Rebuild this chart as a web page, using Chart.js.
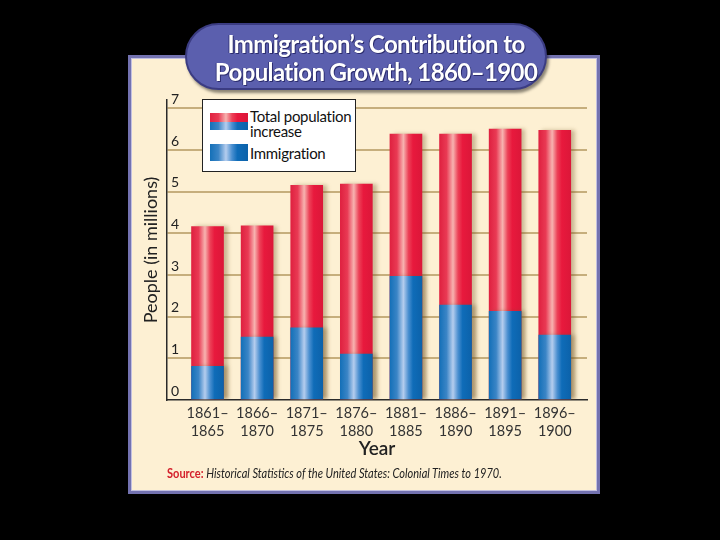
<!DOCTYPE html>
<html>
<head>
<meta charset="utf-8">
<script src="https://cdn.jsdelivr.net/npm/chart.js@4"></script>
<style>
  html, body { margin: 0; padding: 0; background: #000; }
  body { width: 720px; height: 540px; position: relative; overflow: hidden; }
  .panel {
    position: absolute; left: 128px; top: 55px; width: 466px; height: 433px;
    background: #fdf0d3; border: 3px solid #7372b0;
    box-shadow: inset 0 0 0 1px #c3c0e0;
  }
  .title {
    position: absolute; left: 185px; top: 23px; width: 338px; height: 63px;
    background: #5b5fae; border: 2px solid #3b3c82; border-radius: 34px;
    box-shadow: 2px 3px 3px rgba(0,0,0,0.45);
    color: #fff; font-family: Lato, sans-serif; font-weight: bold;
    font-size: 24px; line-height: 28px; text-align: center; letter-spacing: -0.6px;
    padding-left: 20px; box-sizing: content-box; white-space: nowrap;
    text-shadow: 1px 1px 0 #2c2d6e, -1px 0 0 #3a3c80;
  }
  .title div:first-child { margin-top: 5px; }
  canvas#chart { position: absolute; left: 0; top: 0; }
  .legend {
    position: absolute; left: 202px; top: 99px; width: 152px; height: 71px;
    background: #fff; border: 1.5px solid #222;
    font-family: Lato, sans-serif; font-size: 15px; color: #111;
  }
  .sw { position: absolute; left: 7px; width: 38px; height: 17px; }
  .lab { position: absolute; left: 47px; line-height: 15px; white-space: nowrap; letter-spacing: -0.3px; }
  .source {
    position: absolute; left: 167px; top: 465px; white-space: nowrap;
    font-family: Lato, sans-serif; font-size: 13px; color: #222;
    font-style: italic; transform: scaleX(0.85); transform-origin: 0 0;
  }
  .source b { color: #d4202b; font-style: normal; }
</style>
</head>
<body>
<div class="panel"></div>
<canvas id="chart" width="720" height="540"></canvas>
<div class="title"><div>Immigration’s Contribution to</div><div>Population Growth, 1860–1900</div></div>
<div class="legend">
  <div class="sw" id="swTotal" style="top:13px"></div>
  <div class="lab" style="top:9px">Total population<br>increase</div>
  <div class="sw" id="swImm" style="top:44px"></div>
  <div class="lab" style="top:46px">Immigration</div>
</div>
<div class="source"><b>Source:</b> Historical Statistics of the United States: Colonial Times to 1970.</div>
<script>
// values in millions
const periods = [
  ['1861–', '1865'], ['1866–', '1870'], ['1871–', '1875'], ['1876–', '1880'],
  ['1881–', '1885'], ['1886–', '1890'], ['1891–', '1895'], ['1896–', '1900']
];
const totalIncrease = [4.16, 4.18, 5.15, 5.18, 6.38, 6.38, 6.5, 6.47];
const immigration = [0.81, 1.51, 1.73, 1.10, 2.97, 2.28, 2.13, 1.56];
const yTicks = [0, 1, 2, 3, 4, 5, 6, 7];

const FONT = 'Lato, sans-serif';
const redStops = [[0, '#df2140'], [0.22, '#e93a54'], [0.42, '#f7b3b0'], [0.58, '#ec4157'], [0.72, '#e8193d'], [1, '#dc1739']];
const blueStops = [[0, '#1470b8'], [0.22, '#3b85c6'], [0.42, '#b5cdee'], [0.58, '#4a8fd0'], [0.72, '#0f6cb8'], [1, '#0c62aa']];

function cssGradient(stops) {
  return 'linear-gradient(to right, ' + stops.map(s => s[1] + ' ' + (s[0] * 100) + '%').join(', ') + ')';
}
document.getElementById('swImm').style.background = cssGradient(blueStops);
// legend swatch: top half red, bottom half blue
document.getElementById('swTotal').innerHTML =
  '<div style="height:50%;background:' + cssGradient(redStops) + '"></div>' +
  '<div style="height:50%;background:' + cssGradient(blueStops) + '"></div>';

const BAR_W = 32;

function barFill(stops) {
  return function (ctx) {
    const chart = ctx.chart;
    const xs = chart.scales.x;
    if (!chart.chartArea || !xs || ctx.type !== 'data') return stops[4][1];
    const c = xs.getPixelForValue(ctx.dataIndex);
    const g = chart.ctx.createLinearGradient(c - BAR_W / 2, 0, c + BAR_W / 2, 0);
    stops.forEach(s => g.addColorStop(s[0], s[1]));
    return g;
  };
}

const barShadow = {
  id: 'barShadow',
  beforeDatasetDraw(chart) {
    const ctx = chart.ctx;
    ctx.save();
    ctx.shadowColor = 'rgba(110, 80, 30, 0.35)';
    ctx.shadowBlur = 4;
    ctx.shadowOffsetX = 4;
  },
  afterDatasetDraw(chart) {
    chart.ctx.restore();
  }
};

new Chart(document.getElementById('chart'), {
  type: 'bar',
  data: {
    datasets: [
      {
        label: 'Total population increase',
        data: totalIncrease.map((v, i) => ({ x: i, y: v })),
        backgroundColor: barFill(redStops),
        barThickness: BAR_W,
        grouped: false,
        order: 1
      },
      {
        label: 'Immigration',
        data: immigration.map((v, i) => ({ x: i, y: v })),
        backgroundColor: barFill(blueStops),
        barThickness: BAR_W,
        grouped: false,
        order: 0
      }
    ]
  },
  options: {
    responsive: false,
    animation: false,
    layout: { padding: { left: 140, right: 133, top: 100, bottom: 80 } },
    plugins: { legend: { display: false }, tooltip: { enabled: false } },
    scales: {
      x: {
        type: 'linear',
        offset: false,
        min: -0.817,
        max: 7.65,
        afterBuildTicks: s => { s.ticks = periods.map((_, i) => ({ value: i })); },
        afterFit: s => { s.height = 60; },
        grid: { display: false, drawTicks: false },
        border: { color: '#2a2a2a', width: 1.5 },
        ticks: {
          autoSkip: false,
          maxRotation: 0,
          padding: 4,
          color: '#333',
          font: { family: FONT, size: 14.5, lineHeight: 1.25 },
          callback: v => periods[v]
        },
        title: {
          display: true,
          text: 'Year',
          color: '#222',
          padding: 0,
          font: { family: FONT, size: 19, weight: '600', lineHeight: 1.2 }
        }
      },
      y: {
        min: 0,
        max: 7.2,
        afterBuildTicks: s => { s.ticks = yTicks.map(v => ({ value: v })); },
        afterFit: s => { s.width = 27; },
        grid: {
          drawTicks: false,
          color: c => (c.tick && c.tick.value === 0 ? 'rgba(0,0,0,0)' : '#c6ae7c'),
          lineWidth: 2
        },
        border: { color: '#2a2a2a', width: 1.5 },
        ticks: {
          mirror: true,
          padding: 4,
          labelOffset: -9,
          color: '#222',
          font: { family: FONT, size: 14 }
        },
        title: {
          display: true,
          text: 'People (in millions)',
          color: '#222',
          padding: 0,
          font: { family: FONT, size: 18, lineHeight: 1.2 }
        }
      }
    }
  },
  plugins: [barShadow]
});
</script>
</body>
</html>
